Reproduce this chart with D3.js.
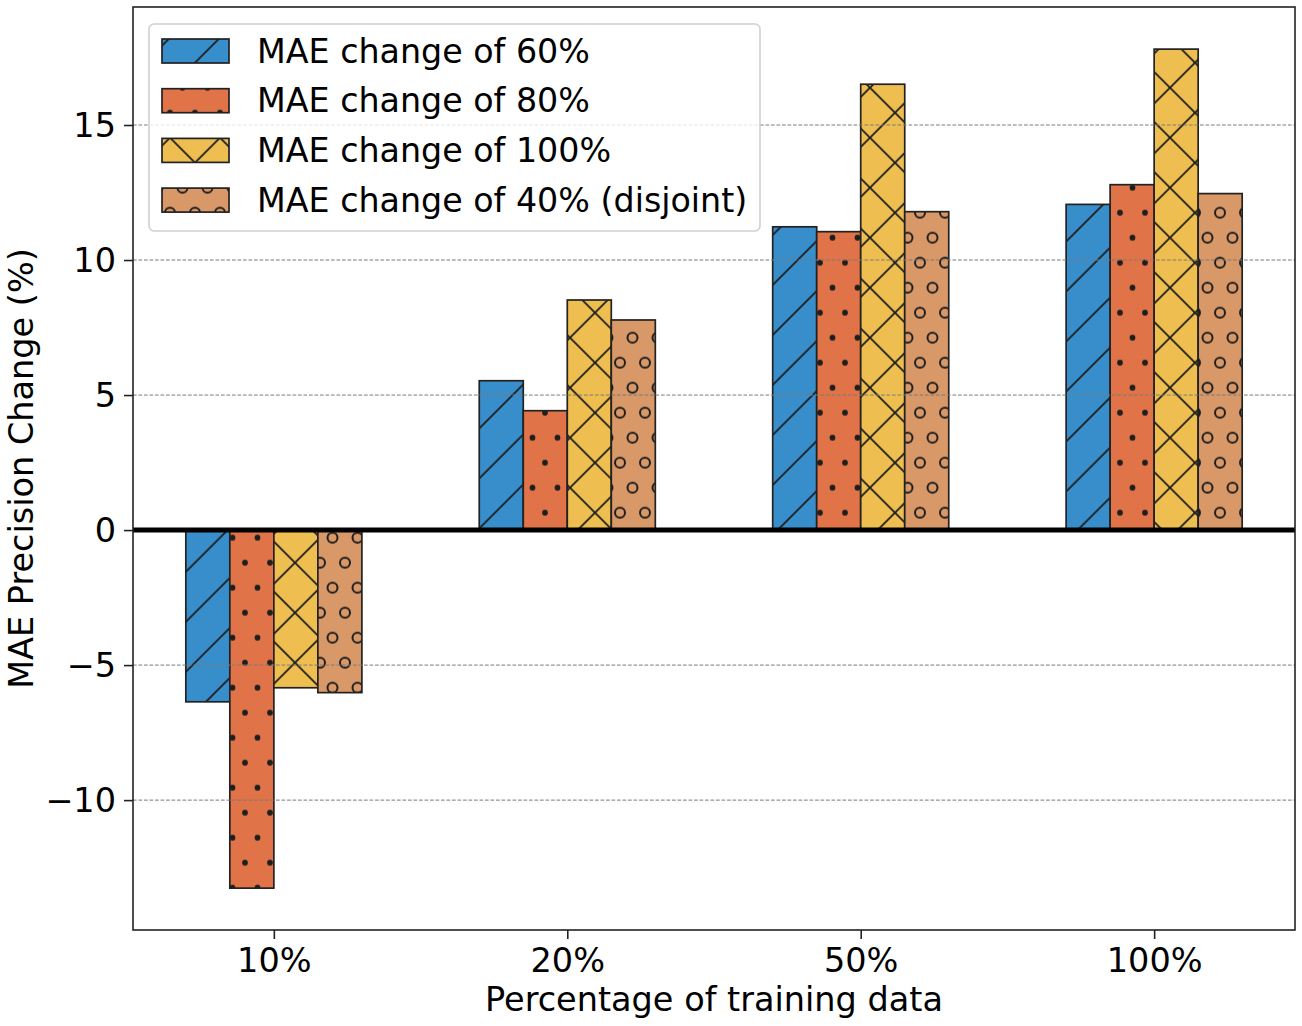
<!DOCTYPE html>
<html>
<head>
<meta charset="utf-8">
<script src="https://cdn.jsdelivr.net/npm/d3@7"></script>
<style>
  html, body { margin: 0; padding: 0; background: #fff; }
  svg { display: block; }
  text { font-family: "DejaVu Sans", sans-serif; fill: #000; }
</style>
</head>
<body>
<svg id="chart" width="1302" height="1026"></svg>
<script>
const categories = ["10%", "20%", "50%", "100%"];
const seriesNames = ["MAE change of 60%", "MAE change of 80%", "MAE change of 100%", "MAE change of 40% (disjoint)"];
const mae60 = [-6.36, 5.53, 11.23, 12.06];
const mae80 = [-13.26, 4.42, 11.05, 12.79];
const mae100 = [-5.84, 8.52, 16.51, 17.81];
const mae40 = [-6.02, 7.78, 11.79, 12.46];
const yTicks = [-10, -5, 0, 5, 10, 15];
const colors = ["#378ecb", "#e07448", "#eebe50", "#d89867"];
const hatches = ["slash", "dots", "cross", "circles"];
const xLabel = "Percentage of training data";
const yLabel = "MAE Precision Change (%)";

const series = [mae60, mae80, mae100, mae40];

const plot = {left: 133, right: 1295, top: 7, bottom: 930};
const svg = d3.select("#chart");

const x = d3.scaleLinear().domain([-0.48, 3.48]).range([plot.left, plot.right]);
const y = d3.scaleLinear().domain([-14.81, 19.37]).range([plot.bottom, plot.top]);
const barW = 0.15;

// patterns (global alignment)
const defs = svg.append("defs");
const hatchColor = "#1e1e1e";
const T = 50, ox = 20, oy = 37.7;
function mkPattern(id, color, kind) {
  const p = defs.append("pattern").attr("id", id)
    .attr("patternUnits", "userSpaceOnUse")
    .attr("x", ox).attr("y", oy).attr("width", T).attr("height", T);
  p.append("rect").attr("width", T).attr("height", T).attr("fill", color);
  if (kind === "slash" || kind === "cross") {
    p.append("path").attr("d", `M-5,5L5,-5M0,${T}L${T},0M${T-5},${T+5}L${T+5},${T-5}`)
      .attr("stroke", hatchColor).attr("stroke-width", 1.8).attr("fill", "none");
  }
  if (kind === "cross") {
    p.append("path").attr("d", `M-5,-5L${T+5},${T+5}M${T-5},-5L${T+5},5M-5,${T-5}L5,${T+5}`)
      .attr("stroke", hatchColor).attr("stroke-width", 1.8).attr("fill", "none");
  }
  if (kind === "dots" || kind === "circles") {
    const pts = [[12.5,0],[37.5,0],[12.5,T],[37.5,T],[0,25],[25,25],[T,25]];
    pts.forEach(([cx, cy]) => {
      const c = p.append("circle").attr("cx", cx).attr("cy", cy);
      if (kind === "dots") c.attr("r", 2.9).attr("fill", hatchColor);
      else c.attr("r", 5).attr("fill", "none").attr("stroke", hatchColor).attr("stroke-width", 2);
    });
  }
}
series.forEach((s, i) => mkPattern("pat" + i, colors[i], hatches[i]));

// bars
const barsG = svg.append("g");
series.forEach((vals, si) => {
  const off = (si - 1.5) * barW;
  barsG.selectAll(null).data(vals).enter().append("rect")
    .attr("x", (d, i) => x(i + off - barW / 2))
    .attr("width", (d, i) => x(i + off + barW / 2) - x(i + off - barW / 2))
    .attr("y", d => y(Math.max(0, d)))
    .attr("height", d => Math.abs(y(d) - y(0)))
    .attr("fill", `url(#pat${si})`)
    .attr("stroke", "#222").attr("stroke-width", 1.7);
});

// grid (drawn above bars)
svg.append("g").selectAll("line").data(yTicks.filter(t => t !== 0)).enter().append("line")
  .attr("x1", plot.left).attr("x2", plot.right)
  .attr("y1", d => y(d)).attr("y2", d => y(d))
  .attr("stroke", "#7a7a7a").attr("stroke-width", 1).attr("stroke-dasharray", "3.7,1.8");

// zero line
svg.append("line").attr("x1", plot.left).attr("x2", plot.right)
  .attr("y1", y(0)).attr("y2", y(0)).attr("stroke", "#000").attr("stroke-width", 5);

// axes
const fmt = d => (d < 0 ? "\u2212" + Math.abs(d) : String(d));
const yAxis = svg.append("g").attr("transform", `translate(${plot.left},0)`)
  .call(d3.axisLeft(y).tickValues(yTicks).tickFormat(fmt).tickSize(9).tickPadding(8).tickSizeOuter(0));
const xAxis = svg.append("g").attr("transform", `translate(0,${plot.bottom})`)
  .call(d3.axisBottom(x).tickValues([0, 1, 2, 3]).tickFormat(i => categories[i]).tickSize(9).tickPadding(9.5).tickSizeOuter(0));
[yAxis, xAxis].forEach(g => {
  g.select(".domain").remove();
  g.selectAll(".tick line").attr("stroke", "#222").attr("stroke-width", 1.6);
  g.selectAll(".tick text").style("font-family", "DejaVu Sans").style("font-size", "33.5px").attr("fill", "#000");
});
yAxis.selectAll(".tick text").attr("dy", "0.35em");

// frame
svg.append("rect").attr("x", plot.left).attr("y", plot.top)
  .attr("width", plot.right - plot.left).attr("height", plot.bottom - plot.top)
  .attr("fill", "none").attr("stroke", "#222").attr("stroke-width", 1.6);

// axis labels
svg.append("text").attr("x", (plot.left + plot.right) / 2).attr("y", 1011)
  .attr("text-anchor", "middle").style("font-size", "33.5px").text(xLabel);
svg.append("text").attr("transform", `translate(33,${(plot.top + plot.bottom) / 2}) rotate(-90)`)
  .attr("text-anchor", "middle").style("font-size", "33.5px").text(yLabel);

// legend
const lg = svg.append("g");
lg.append("rect").attr("x", 149).attr("y", 24).attr("width", 611).attr("height", 207)
  .attr("rx", 5).attr("fill", "#fff").attr("fill-opacity", 0.8)
  .attr("stroke", "#d0d0d0").attr("stroke-width", 1.6);
const rowY = [51, 100.7, 150.4, 200.1];
seriesNames.forEach((name, i) => {
  lg.append("rect").attr("x", 162).attr("y", rowY[i] - 12).attr("width", 67).attr("height", 24)
    .attr("fill", `url(#pat${i})`).attr("stroke", "#222").attr("stroke-width", 1.7);
  lg.append("text").attr("x", 257).attr("y", rowY[i] + 11.5)
    .style("font-size", "33.3px").text(name);
});
</script>
</body>
</html>
